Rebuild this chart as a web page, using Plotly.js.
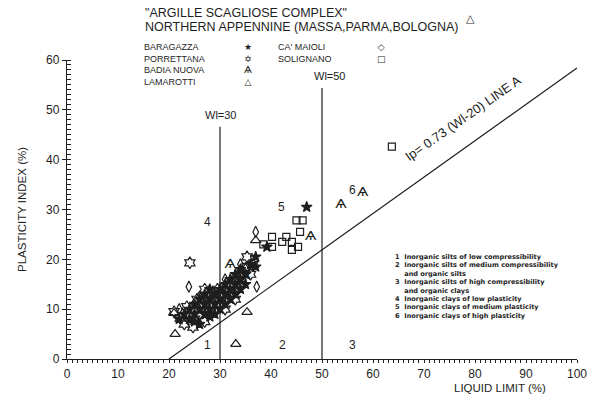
<!DOCTYPE html>
<html><head><meta charset="utf-8">
<script src="https://cdn.plot.ly/plotly-3.0.1.min.js"></script>
<style>html,body{margin:0;padding:0;background:#fff}#chart{width:593px;height:399px}</style>
</head><body><div id="chart"></div>
<script>
// ---- data (liquid limit %, plasticity index %) ----
const baragazzaX = [22,23,24,24,25,25,26,26,27,27,27,28,28,28,29,29,30,30,31,31,31,32,32,33,33,33,34,34,35,35,36,37,37,39.2,47,26,29,30,32,34,25,28];
const baragazzaY = [8,9,8,10,9,11,10,12,9,11,13,10,12,14,11,13,12,14,11,13,15,14,16,13,15,17,16,18,15,17,19,18.5,20.5,22.5,30.5,7,9,10,12,14,7.5,8.5];
const porrettanaX = [24.1,24.7,22.2,21,23,23.5,25,25.5,26,26.5,27,27.5,28,28.5,29,29.5,30,30.5,31,31.5,32,32.5,33,33.5,34,34.5,35,35.3,36,36.5,33,31,27];
const porrettanaY = [19.3,6.4,8.2,9.5,7,10.5,8,12,9,11,7.5,12.5,9.5,11,12,14,11,13,14,12,15,13,16,14,15,17,18,20.5,17,19,12,10,14];
const badiaX = [58,53.7,47.8,32,33,35];
const badiaY = [33.3,31,24.5,19,15.5,16.5];
const lamarottiX = [21,21.2,35.3,33.1,37];
const lamarottiY = [9.2,5,9.4,3,23.8];
const maioliX = [23.9,37.2,37,22,28,31,34,26];
const maioliY = [14.5,14.5,25.5,10,13,16,19,12.5];
const solignanoX = [63.7,45,46.2,45.7,40.2,42.2,44.1,45.3,44.1,40.2,38.5,43,35,34,30];
const solignanoY = [42.6,27.8,27.8,25.5,24.5,23.5,23.5,22.5,21.9,22.5,23,24.5,18.5,17,13];
// reference lines
const aLineX = [20, 100];
const aLineSlope = 0.73;
const wlLines = [30, 50];
const wlTops = [46.6, 54.4];
const wlLabels = ["Wl=30", "Wl=50"];
const zoneLabels = ["1","2","3","4","5","6"];
const zoneX = [27.5,42.2,55.9,27.6,42,55.9];
const zoneY = [2.8,2.8,2.8,27.5,30.5,33.9];
const classText = [
  "1  Inorganic silts of low compressibility",
  "2  Inorganic silts of medium compressibility",
  "    and organic silts",
  "3  Inorganic silts of high compressibility",
  "    and organic clays",
  "4  Inorganic clays of low plasticity",
  "5  Inorganic clays of medium plasticity",
  "6  Inorganic clays of high plasticity"
];
const legendNamesA = ["BARAGAZZA","PORRETTANA","BADIA NUOVA","LAMAROTTI"];
const legendGlyphsA = ["★","✡","Ѧ","△"];
const legendNamesB = ["CA' MAIOLI","SOLIGNANO"];
const legendGlyphsB = ["◇","□"];

const ink = "#1e1e1e";
const F = "Liberation Sans, Arial, sans-serif";

const mk = (x, y, symbol, size) => ({
  type: "scatter", mode: "markers", x: x, y: y, cliponaxis: false, showlegend: false,
  marker: { symbol: symbol, size: size, color: ink, line: { color: ink, width: 1.2 } }
});

const traces = [
  { type: "scatter", mode: "lines", x: aLineX, y: aLineX.map(v => aLineSlope * (v - 20)),
    line: { color: ink, width: 1.2 }, showlegend: false, hoverinfo: "skip" },
  mk(solignanoX, solignanoY, "square-open", 7),
  mk(maioliX, maioliY, "diamond-tall-open", 8),
  mk(lamarottiX, lamarottiY, "triangle-up-open", 9),
  mk(porrettanaX, porrettanaY, "hexagram-open", 9),
  mk(baragazzaX, baragazzaY, "star", 8),
  { type: "scatter", mode: "text", x: badiaX, y: badiaY, text: badiaX.map(() => "Ѧ"),
    textfont: { family: "DejaVu Sans", size: 13, color: ink }, cliponaxis: false, showlegend: false }
];

const shapes = wlLines.map((w, i) => ({
  type: "line", xref: "x", yref: "y", x0: w, x1: w, y0: 0, y1: wlTops[i],
  line: { color: ink, width: 1.2 }
}));

const ann = [];
wlLines.forEach((w, i) => ann.push({ xref: "x", yref: "y", x: w + (i ? 1.6 : 0.2), y: wlTops[i] + 2.4,
  text: wlLabels[i], showarrow: false, font: { family: F, size: 11, color: ink } }));
zoneLabels.forEach((t, i) => ann.push({ xref: "x", yref: "y", x: zoneX[i], y: zoneY[i], text: t,
  showarrow: false, font: { family: F, size: 12, color: ink } }));
ann.push({ xref: "x", yref: "y", x: 77.6, y: 48.3, text: "Ip= 0.73 (Wl-20) LINE A", textangle: -35,
  showarrow: false, font: { family: F, size: 13, color: ink } });
classText.forEach((t, i) => ann.push({ xref: "paper", yref: "paper", x: (393 - 67) / 510, y: (359 - (257 + i * 8.4)) / 299,
  xanchor: "left", yanchor: "middle", text: t, showarrow: false,
  font: { family: "DejaVu Sans", size: 6.6, color: ink, weight: "bold" } }));
// header
const px = v => (v - 67) / 510, py = v => (359 - v) / 299;
ann.push({ xref: "paper", yref: "paper", x: px(143), y: py(13), xanchor: "left", yanchor: "middle",
  text: "\"ARGILLE SCAGLIOSE COMPLEX\"", showarrow: false, font: { family: F, size: 12.5, color: ink } });
ann.push({ xref: "paper", yref: "paper", x: px(143), y: py(27), xanchor: "left", yanchor: "middle",
  text: "NORTHERN APPENNINE (MASSA,PARMA,BOLOGNA)", showarrow: false, font: { family: F, size: 12.5, color: ink } });
// legend block
ann.push({ xref: "paper", yref: "paper", x: px(143), y: py(41), xanchor: "left", yanchor: "top", align: "left",
  text: legendNamesA.join("<br>"), showarrow: false, borderpad: 0, font: { family: F, size: 9, color: ink } });
ann.push({ xref: "paper", yref: "paper", x: px(248), y: py(41), xanchor: "center", yanchor: "top", align: "center",
  text: legendGlyphsA.join("<br>"), showarrow: false, borderpad: 0, font: { family: "DejaVu Sans", size: 9, color: ink } });
ann.push({ xref: "paper", yref: "paper", x: px(277), y: py(41), xanchor: "left", yanchor: "top", align: "left",
  text: legendNamesB.join("<br>"), showarrow: false, borderpad: 0, font: { family: F, size: 9, color: ink } });
ann.push({ xref: "paper", yref: "paper", x: px(381), y: py(41), xanchor: "center", yanchor: "top", align: "center",
  text: legendGlyphsB.join("<br>"), showarrow: false, borderpad: 0, font: { family: "DejaVu Sans", size: 9, color: ink } });
// stray Lamarotti mark at top right of the original figure
ann.push({ xref: "paper", yref: "paper", x: px(470), y: py(18), xanchor: "center", yanchor: "middle",
  text: "△", showarrow: false, font: { family: "DejaVu Sans", size: 11, color: ink } });
ann.push({ xref: "paper", yref: "paper", x: px(22), y: py(210), textangle: -90, xanchor: "center", yanchor: "middle",
  text: "PLASTICITY INDEX (%)", showarrow: false, font: { family: F, size: 11.5, color: ink } });
ann.push({ xref: "paper", yref: "paper", x: px(500), y: py(388), xanchor: "center", yanchor: "middle",
  text: "LIQUID LIMIT (%)", showarrow: false, font: { family: F, size: 11.5, color: ink } });

const axisCommon = {
  showgrid: false, zeroline: false, showline: true, linecolor: ink, linewidth: 1.2,
  tickfont: { family: F, size: 12, color: ink }, dtick: 10, tickcolor: ink, ticks: "outside", ticklen: 4
};
const layout = {
  width: 593, height: 399, margin: { l: 67, r: 16, t: 60, b: 40 },
  paper_bgcolor: "#fff", plot_bgcolor: "#fff", showlegend: false,
  xaxis: Object.assign({}, axisCommon, { range: [0, 100], tick0: 0, ticklen: 3,
    minor: { dtick: 1, ticks: "outside", ticklen: 3, tickcolor: ink } }),
  yaxis: Object.assign({}, axisCommon, { range: [0, 60], tick0: 0, ticklen: 4,
    minor: { dtick: 1, ticks: "inside", ticklen: 4, tickcolor: ink } }),
  shapes: shapes, annotations: ann
};
Plotly.newPlot("chart", traces, layout, { staticPlot: true, displayModeBar: false });
</script></body></html>
